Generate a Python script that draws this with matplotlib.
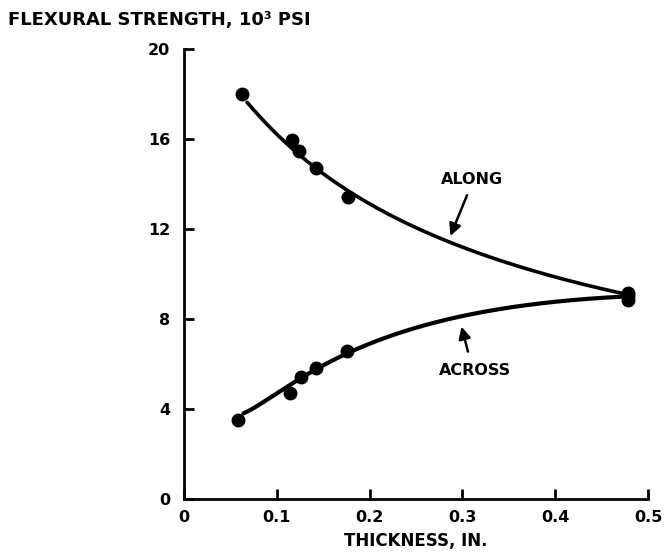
import numpy as np
import matplotlib
matplotlib.use("Agg")
import matplotlib.pyplot as plt

# measured data points
along_x = [0.0625, 0.116, 0.124, 0.142, 0.177, 0.478, 0.478]
along_y = [18.0, 15.95, 15.45, 14.7, 13.4, 9.15, 8.85]
across_x = [0.0585, 0.114, 0.126, 0.142, 0.176, 0.478]
across_y = [3.5, 4.72, 5.41, 5.81, 6.59, 9.0]

# fitted curves
along_curve_x = [0.068, 0.107, 0.142, 0.179, 0.204, 0.240, 0.287, 0.330, 0.384, 0.427, 0.466, 0.476]
along_curve_y = [17.55, 16.18, 14.75, 13.38, 12.85, 12.2, 11.6, 10.9, 10.1, 9.55, 9.14, 9.05]
across_curve_x = [0.064, 0.071, 0.114, 0.179, 0.204, 0.233, 0.276, 0.348, 0.420, 0.466, 0.476]
across_curve_y = [3.81, 3.96, 4.99, 6.62, 7.0, 7.4, 7.85, 8.45, 8.84, 8.99, 9.02]

xticks = [0, 0.1, 0.2, 0.3, 0.4, 0.5]
xticklabels = ["0", "0.1", "0.2", "0.3", "0.4", "0.5"]
yticks = [0, 4, 8, 12, 16, 20]
yticklabels = ["0", "4", "8", "12", "16", "20"]

plt.rcParams['font.family'] = ['DejaVu Sans']
plt.rcParams['font.weight'] = 'bold'

fig = plt.figure(figsize=(6.67, 5.54), dpi=100)
ax = fig.add_axes([0.2759, 0.0993, 0.9715 - 0.2759, 0.9116 - 0.0993])

def smooth(xs, ys, deg=3):
    xs = np.asarray(xs); ys = np.asarray(ys)
    c = np.polyfit(np.log(xs), ys, deg)
    xx = np.linspace(xs.min(), xs.max(), 200)
    return xx, np.polyval(c, np.log(xx))

xx, yy = smooth(along_curve_x, along_curve_y, 3)
ax.plot(xx, yy, color='black', lw=2.6, solid_capstyle='round')
xx, yy = smooth(across_curve_x, across_curve_y, 3)
ax.plot(xx, yy, color='black', lw=3.0, solid_capstyle='round')

ax.plot(along_x, along_y, 'o', color='black', ms=9)
ax.plot(across_x, across_y, 'o', color='black', ms=9)

ax.set_xlim(0, 0.5)
ax.set_ylim(0, 20)
ax.set_xticks(xticks)
ax.set_xticklabels(xticklabels)
ax.set_yticks(yticks)
ax.set_yticklabels(yticklabels)
ax.tick_params(direction='in', length=7, width=2, labelsize=11.5, pad=10)
ax.tick_params(axis='x', pad=8)
for s in ['top', 'right']:
    ax.spines[s].set_visible(False)
for s in ['left', 'bottom']:
    ax.spines[s].set_linewidth(2)
for lab in ax.get_xticklabels() + ax.get_yticklabels():
    lab.set_fontweight('bold')

ax.set_xlabel("THICKNESS, IN.", fontsize=12, fontweight='bold', labelpad=5)
fig.text(0.012, 0.963, "FLEXURAL STRENGTH, 10³ PSI", fontsize=13, fontweight='bold',
         ha='left', va='center')

ax.text(0.31, 14.2, "ALONG", ha='center', va='center', fontsize=11.5, fontweight='bold')
ax.annotate("", xy=(0.287, 11.69), xytext=(0.305, 13.5),
            arrowprops=dict(arrowstyle='-|>', color='black', lw=1.8, mutation_scale=18,
                            shrinkA=0, shrinkB=0))
ax.text(0.314, 5.73, "ACROSS", ha='center', va='center', fontsize=11.5, fontweight='bold')
ax.annotate("", xy=(0.299, 7.66), xytext=(0.306, 6.55),
            arrowprops=dict(arrowstyle='-|>', color='black', lw=1.8, mutation_scale=18,
                            shrinkA=0, shrinkB=0))

fig.savefig("out.png", dpi=100)
